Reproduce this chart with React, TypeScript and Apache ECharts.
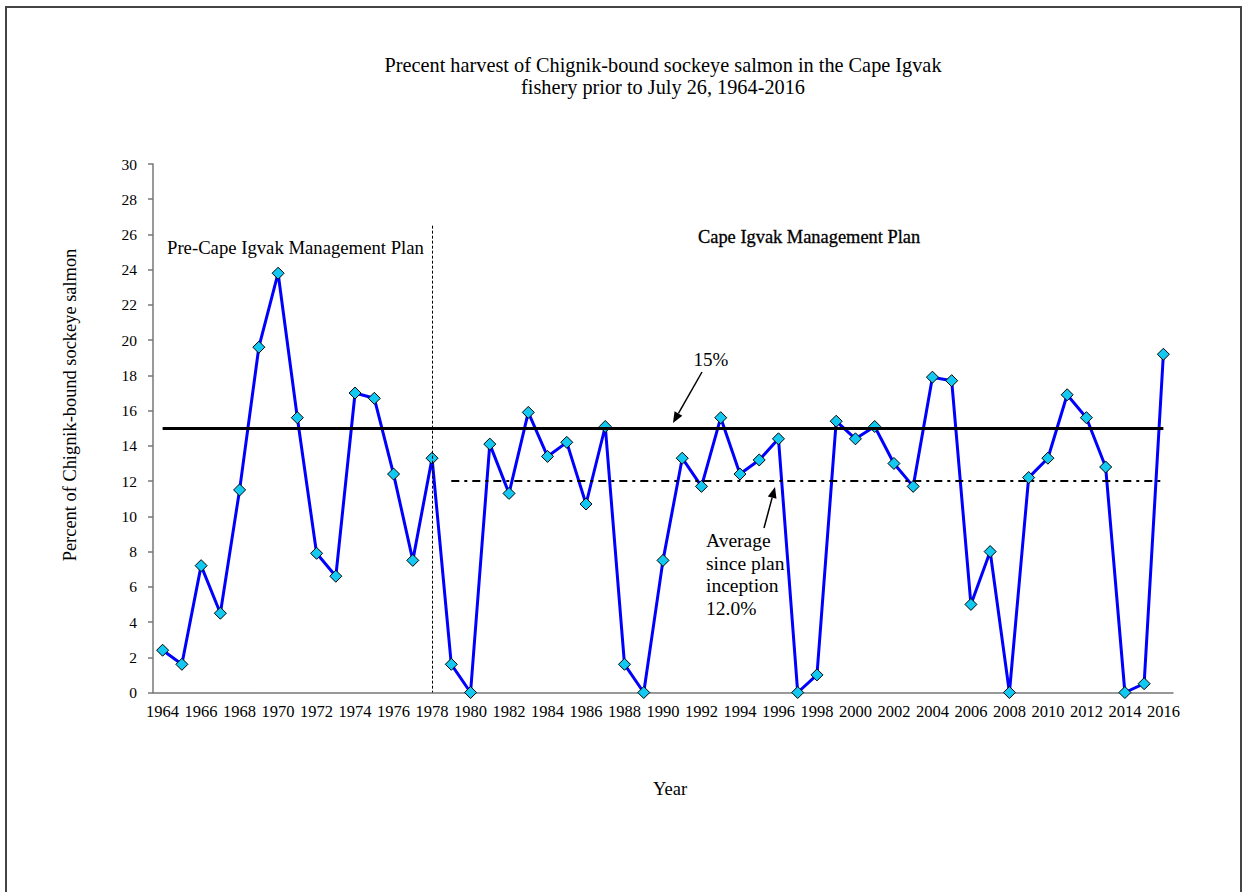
import React, { useEffect, useRef } from 'react';
import * as echarts from 'echarts';

const years: string[] = [
  '1964','1965','1966','1967','1968','1969','1970','1971','1972','1973','1974','1975','1976','1977','1978',
  '1979','1980','1981','1982','1983','1984','1985','1986','1987','1988','1989','1990','1991','1992','1993',
  '1994','1995','1996','1997','1998','1999','2000','2001','2002','2003','2004','2005','2006','2007','2008',
  '2009','2010','2011','2012','2013','2014','2015','2016',
];
const percentHarvest: number[] = [
  2.4, 1.6, 7.2, 4.5, 11.5, 19.6, 23.8, 15.6, 7.9, 6.6, 17.0, 16.7, 12.4, 7.5, 13.3,
  1.6, 0, 14.1, 11.3, 15.9, 13.4, 14.2, 10.7, 15.1, 1.6, 0, 7.5, 13.3, 11.7, 15.6,
  12.4, 13.2, 14.4, 0, 1.0, 15.4, 14.4, 15.1, 13.0, 11.7, 17.9, 17.7, 5.0, 8.0, 0,
  12.2, 13.3, 16.9, 15.6, 12.8, 0, 0.5, 19.2,
];
const targetLevel = 15;
const planAverage = 12.0;
const planStartYear = '1979';
const planBoundaryYear = '1978';
const boundaryTop = 26.5;
const yMin = 0;
const yMax = 30;
const yInterval = 2;

const FONT = "'Liberation Serif', 'Times New Roman', serif";

function arrow(x1: number, y1: number, x2: number, y2: number) {
  const dx = x2 - x1;
  const dy = y2 - y1;
  const len = Math.sqrt(dx * dx + dy * dy);
  const ux = dx / len;
  const uy = dy / len;
  const hl = 11;
  const hw = 4.5;
  const bx = x2 - ux * hl;
  const by = y2 - uy * hl;
  return {
    type: 'group',
    silent: true,
    children: [
      { type: 'line', shape: { x1, y1, x2: bx, y2: by }, style: { stroke: '#000', lineWidth: 1.5 } },
      {
        type: 'polygon',
        shape: { points: [[x2, y2], [bx - uy * hw, by + ux * hw], [bx + uy * hw, by - ux * hw]] },
        style: { fill: '#000' },
      },
    ],
  };
}

export default function App() {
  const ref = useRef<HTMLDivElement>(null);
  useEffect(() => {
    const chart = echarts.init(ref.current!, null, { renderer: 'svg' });
    chart.setOption({
      animation: false,
      backgroundColor: '#fff',
      textStyle: { fontFamily: FONT, color: '#000' },
      title: {
        text: 'Precent harvest of Chignik-bound sockeye salmon in the Cape Igvak\nfishery prior to July 26, 1964-2016',
        left: 658,
        top: 49,
        textAlign: 'center',
        textStyle: { fontFamily: FONT, fontSize: 20.3, fontWeight: 'normal', color: '#000', lineHeight: 22 },
      },
      grid: { left: 153, right: 70, top: 164, bottom: 199.5, containLabel: false },
      xAxis: {
        type: 'category',
        data: years,
        boundaryGap: true,
        axisLine: { show: true, lineStyle: { color: '#777', width: 1.5 } },
        axisTick: { show: false },
        axisLabel: { interval: 1, margin: 10, fontFamily: FONT, fontSize: 16.5, color: '#000' },
        splitLine: { show: false },
      },
      yAxis: {
        type: 'value',
        min: yMin,
        max: yMax,
        interval: yInterval,
        axisLine: { show: true, lineStyle: { color: '#777', width: 1.5 } },
        axisTick: { show: true, inside: false, length: 5, lineStyle: { color: '#777', width: 1.5 } },
        axisLabel: { margin: 16, fontFamily: FONT, fontSize: 15.5, color: '#000' },
        splitLine: { show: false },
      },
      series: [
        {
          type: 'line',
          data: [],
          z: 1,
          markLine: {
            silent: true,
            symbol: ['none', 'none'],
            label: { show: false },
            data: [
              [
                { coord: [years[0], targetLevel], lineStyle: { color: '#000', width: 3, type: 'solid' } },
                { coord: [years[years.length - 1], targetLevel] },
              ],
              [
                { coord: [planStartYear, planAverage], lineStyle: { color: '#000', width: 2, type: [8, 5, 3, 5] } },
                { coord: [years[years.length - 1], planAverage] },
              ],
              [
                { coord: [planBoundaryYear, boundaryTop], lineStyle: { color: '#000', width: 1, type: [3, 2] } },
                { coord: [planBoundaryYear, 0] },
              ],
            ],
          },
        },
        {
          type: 'line',
          data: percentHarvest,
          z: 3,
          symbol: 'diamond',
          symbolSize: 12,
          showSymbol: true,
          lineStyle: { color: '#0000FF', width: 3 },
          itemStyle: { color: '#13C9F2', borderColor: '#000', borderWidth: 1 },
        },
      ],
      graphic: [
        {
          type: 'rect',
          z: -10,
          silent: true,
          shape: { x: 6, y: 7, width: 1235, height: 900 },
          style: { fill: 'none', stroke: '#444', lineWidth: 2 },
        },
        {
          type: 'text',
          x: 70,
          y: 405,
          rotation: Math.PI / 2,
          style: {
            text: 'Percent of Chignik-bound sockeye salmon',
            font: `18.4px ${FONT}`,
            fill: '#000',
            align: 'center',
            verticalAlign: 'middle',
          },
        },
        {
          type: 'text',
          x: 670,
          y: 789,
          style: { text: 'Year', font: `18.5px ${FONT}`, fill: '#000', align: 'center', verticalAlign: 'middle' },
        },
        {
          type: 'text',
          x: 167,
          y: 247,
          style: {
            text: 'Pre-Cape Igvak Management Plan',
            font: `18.7px ${FONT}`,
            fill: '#000',
            align: 'left',
            verticalAlign: 'middle',
          },
        },
        {
          type: 'text',
          x: 698,
          y: 237,
          style: {
            text: 'Cape Igvak Management Plan',
            font: `18.4px ${FONT}`,
            fill: '#000',
            stroke: '#000',
            lineWidth: 0.3,
            align: 'left',
            verticalAlign: 'middle',
          },
        },
        {
          type: 'text',
          x: 711,
          y: 359,
          style: { text: '15%', font: `19px ${FONT}`, fill: '#000', align: 'center', verticalAlign: 'middle' },
        },
        {
          type: 'text',
          x: 706,
          y: 529,
          style: {
            text: 'Average\nsince plan\ninception\n12.0%',
            font: `19.5px ${FONT}`,
            lineHeight: 22.7,
            fill: '#000',
            align: 'left',
            verticalAlign: 'top',
          },
        },
        arrow(702, 372, 673, 423),
        arrow(764, 528, 775, 487),
      ],
    });
    return () => chart.dispose();
  }, []);
  return (
    <div
      ref={ref}
      style={{ position: 'absolute', left: 0, top: 0, width: 1243, height: 892, background: '#fff' }}
    />
  );
}
